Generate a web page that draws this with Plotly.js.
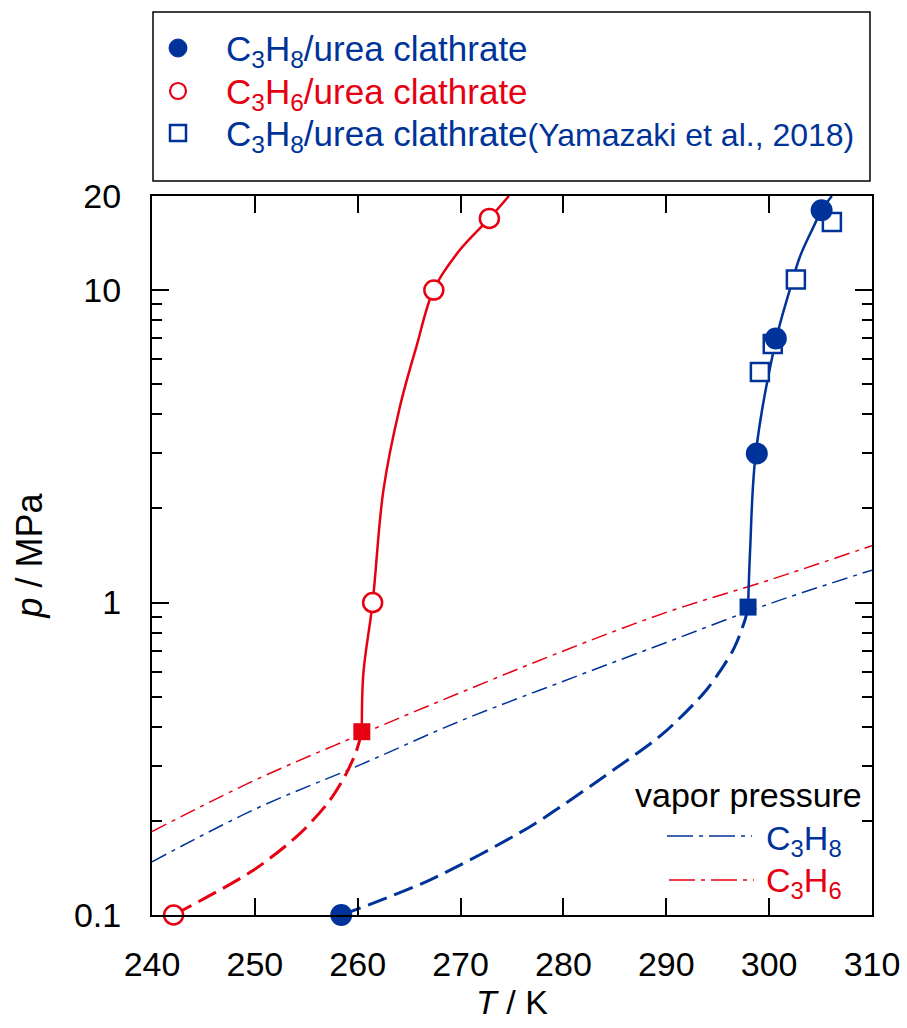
<!DOCTYPE html>
<html>
<head>
<meta charset="utf-8">
<script src="https://cdn.plot.ly/plotly-3.0.1.min.js"></script>
<style>body{margin:0;background:#fff;}#chart{width:907px;height:1028px;}</style>
</head>
<body>
<div id="chart"></div>
<script>
// ---- data ----
const BLUE = '#003399';
const RED = '#e60012';

// vapor pressure curves
const vapT = [240, 250, 260, 270, 280, 290, 300, 310];
const vapC3H8 = [0.148, 0.218, 0.30, 0.418, 0.56, 0.745, 0.99, 1.27];
const vapC3H6 = [0.185, 0.27, 0.375, 0.515, 0.70, 0.93, 1.18, 1.52];

// C3H6 clathrate equilibrium curve
const c3h6DashT = [242.1, 249.85, 254.4, 257.3, 258.9, 259.9, 260.4];
const c3h6DashP = [0.1, 0.139, 0.1825, 0.233, 0.284, 0.337, 0.386];
const c3h6SolidT = [260.4, 260.55, 261.45, 262.5, 264.1, 265.7, 267.4, 269.9, 272.8, 274.7];
const c3h6SolidP = [0.386, 0.593, 1.0, 2.29, 4.23, 6.58, 10.05, 13.4, 16.95, 20];

// C3H8 clathrate equilibrium curve
const c3h8DashT = [258.45, 267.0, 276.75, 284.85, 289.7, 293.9, 296.5, 297.65, 297.95];
const c3h8DashP = [0.1, 0.1294, 0.1917, 0.291, 0.381, 0.525, 0.705, 0.879, 0.967];
const c3h8SolidT = [297.95, 298.15, 298.7, 300.7, 302.0, 303.0, 304.3, 305.1, 306.1];
const c3h8SolidP = [0.967, 1.47, 3.0, 7.0, 10.0, 12.8, 15.9, 18.0, 20];

// measured points
const c3h8T = [258.4, 298.8, 300.65, 305.1];
const c3h8P = [0.1, 3.0, 7.0, 18.0];
const c3h6T = [242.1, 261.45, 267.4, 272.8];
const c3h6P = [0.1, 1.0, 10.0, 16.95];
const yamT = [299.1, 300.35, 302.6, 306.1];
const yamP = [5.47, 6.72, 10.8, 16.5];
// quadruple points (intersection with vapor pressure)
const qpC3H8T = [297.95], qpC3H8P = [0.967];
const qpC3H6T = [260.4], qpC3H6P = [0.386];

// ticks
const xTicks = [240, 250, 260, 270, 280, 290, 300, 310];
const yTicks = [0.1, 1, 10, 20];
const yTickText = ['0.1', '1', '10', '20'];
const yMinor = [0.2, 0.3, 0.4, 0.5, 0.6, 0.7, 0.8, 0.9, 2, 3, 4, 5, 6, 7, 8, 9];

// labels
const legC3H8 = 'C<sub>3</sub>H<sub>8</sub>/urea clathrate';
const legC3H6 = 'C<sub>3</sub>H<sub>6</sub>/urea clathrate';
const legYam = 'C<sub>3</sub>H<sub>8</sub>/urea clathrate<span style="font-size:32px">(Yamazaki et al., 2018)</span>';

const dashDot = '16px,6px,4px,6px';
const dashDotLeg = '26px,6px,4px,6px';
const longDash = '20px,8px';

const traces = [
  {x: vapT, y: vapC3H8, mode: 'lines', line: {color: BLUE, width: 1.5, dash: dashDot, shape: 'spline'}},
  {x: vapT, y: vapC3H6, mode: 'lines', line: {color: RED, width: 1.5, dash: dashDot, shape: 'spline'}},
  {x: c3h6DashT, y: c3h6DashP, mode: 'lines', line: {color: RED, width: 3, dash: longDash, shape: 'spline', smoothing: 0.8}},
  {x: c3h6SolidT, y: c3h6SolidP, mode: 'lines', line: {color: RED, width: 2.5, shape: 'spline', smoothing: 1}},
  {x: c3h8DashT, y: c3h8DashP, mode: 'lines', line: {color: BLUE, width: 3, dash: longDash, shape: 'spline', smoothing: 0.8}},
  {x: c3h8SolidT, y: c3h8SolidP, mode: 'lines', line: {color: BLUE, width: 2.5, shape: 'spline', smoothing: 1}},
  {x: qpC3H8T, y: qpC3H8P, mode: 'markers', marker: {symbol: 'square', size: 17, color: BLUE}, cliponaxis: false},
  {x: qpC3H6T, y: qpC3H6P, mode: 'markers', marker: {symbol: 'square', size: 17, color: RED}, cliponaxis: false},
  {x: yamT, y: yamP, mode: 'markers', name: legYam,
   marker: {symbol: 'square', size: 18, color: 'white', line: {color: BLUE, width: 2.5}}, cliponaxis: false},
  {x: c3h6T, y: c3h6P, mode: 'markers', name: legC3H6,
   marker: {symbol: 'circle', size: 19, color: 'white', line: {color: RED, width: 2.5}}, cliponaxis: false},
  {x: c3h8T, y: c3h8P, mode: 'markers', name: legC3H8,
   marker: {symbol: 'circle', size: 22, color: BLUE}, cliponaxis: false}
];

function px2x(px) { return (px - 152) / 720; }
function px2y(py) { return (915 - py) / 719; }

const legX = px2x(178);
const rowY = [48, 91, 133];

const layout = {
  width: 907, height: 1028,
  margin: {l: 152, r: 35, t: 196, b: 113},
  paper_bgcolor: 'white', plot_bgcolor: 'white',
  font: {family: 'Liberation Sans, Arial, Helvetica, sans-serif', size: 34, color: 'black'},
  showlegend: false,
  xaxis: {
    range: [240, 310], tickvals: xTicks, ticks: 'inside', ticklen: 17, tickwidth: 2, tickcolor: 'black',
    showline: true, linewidth: 2, linecolor: 'black', mirror: 'ticks', showgrid: false, zeroline: false,
    tickfont: {size: 34}, ticklabelstandoff: 18,
    title: {text: '<i>T</i> / K', font: {size: 34}, standoff: 8}
  },
  yaxis: {
    type: 'log', range: [-1, Math.log10(20)], tickvals: yTicks, ticktext: yTickText,
    ticks: 'inside', ticklen: 17, tickwidth: 2, tickcolor: 'black',
    minor: {tickvals: yMinor, ticks: 'inside', ticklen: 10, tickwidth: 2, tickcolor: 'black', showgrid: false},
    showline: true, linewidth: 2, linecolor: 'black', mirror: 'ticks', showgrid: false, zeroline: false,
    tickfont: {size: 34}, ticklabelstandoff: 22,
    title: {text: '<i>p</i> / MPa', font: {size: 36}, standoff: 20}
  },
  shapes: [
    {type: 'rect', xref: 'paper', yref: 'paper', x0: px2x(153), x1: px2x(870), y0: px2y(181), y1: px2y(12),
     line: {color: 'black', width: 1.5}, fillcolor: 'rgba(0,0,0,0)'},
    // legend symbols
    {type: 'circle', xref: 'paper', yref: 'paper', xsizemode: 'pixel', ysizemode: 'pixel',
     xanchor: legX, yanchor: px2y(rowY[0]), x0: -9, x1: 9, y0: -9, y1: 9,
     fillcolor: BLUE, line: {color: BLUE, width: 1}},
    {type: 'circle', xref: 'paper', yref: 'paper', xsizemode: 'pixel', ysizemode: 'pixel',
     xanchor: legX, yanchor: px2y(rowY[1]), x0: -8, x1: 8, y0: -8, y1: 8,
     fillcolor: 'white', line: {color: RED, width: 2.2}},
    {type: 'rect', xref: 'paper', yref: 'paper', xsizemode: 'pixel', ysizemode: 'pixel',
     xanchor: legX, yanchor: px2y(rowY[2]), x0: -8, x1: 8, y0: -8, y1: 8,
     fillcolor: 'white', line: {color: BLUE, width: 2.5}},
    // vapor pressure legend lines
    {type: 'line', xref: 'paper', yref: 'paper', x0: px2x(667), x1: px2x(752), y0: px2y(836), y1: px2y(836),
     line: {color: BLUE, width: 1.5, dash: dashDotLeg}},
    {type: 'line', xref: 'paper', yref: 'paper', x0: px2x(669), x1: px2x(754), y0: px2y(880), y1: px2y(880),
     line: {color: RED, width: 1.5, dash: dashDotLeg}}
  ],
  annotations: [
    {xref: 'paper', yref: 'paper', x: px2x(224), y: px2y(rowY[0] + 3), xanchor: 'left', yanchor: 'middle',
     text: legC3H8, showarrow: false, font: {size: 35, color: BLUE}},
    {xref: 'paper', yref: 'paper', x: px2x(224), y: px2y(rowY[1] + 3), xanchor: 'left', yanchor: 'middle',
     text: legC3H6, showarrow: false, font: {size: 35, color: RED}},
    {xref: 'paper', yref: 'paper', x: px2x(224), y: px2y(rowY[2] + 3), xanchor: 'left', yanchor: 'middle',
     text: legYam, showarrow: false, font: {size: 35, color: BLUE}},
    {xref: 'paper', yref: 'paper', x: px2x(864), y: px2y(795), xanchor: 'right', yanchor: 'middle',
     text: 'vapor pressure', showarrow: false, font: {size: 34, color: 'black'}},
    {xref: 'paper', yref: 'paper', x: px2x(764), y: px2y(840), xanchor: 'left', yanchor: 'middle',
     text: 'C<sub>3</sub>H<sub>8</sub>', showarrow: false, font: {size: 34, color: BLUE}},
    {xref: 'paper', yref: 'paper', x: px2x(764), y: px2y(882), xanchor: 'left', yanchor: 'middle',
     text: 'C<sub>3</sub>H<sub>6</sub>', showarrow: false, font: {size: 34, color: RED}}
  ]
};

Plotly.newPlot('chart', traces, layout, {displayModeBar: false, staticPlot: true});
</script>
</body>
</html>
